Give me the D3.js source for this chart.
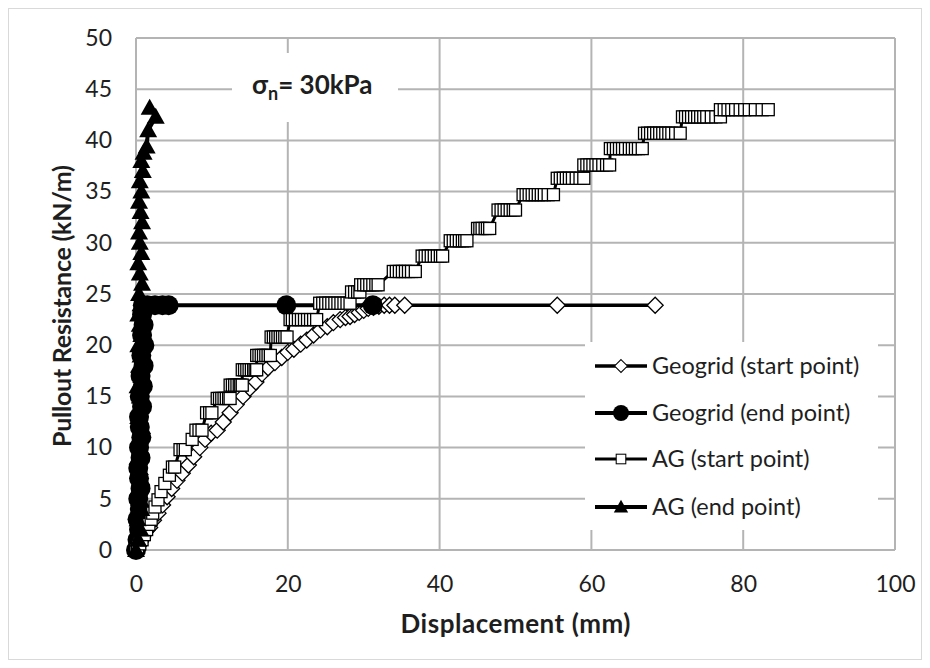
<!DOCTYPE html>
<html>
<head>
<meta charset="utf-8">
<script src="https://cdn.jsdelivr.net/npm/d3@7"></script>
<style>
  body { margin: 0; background: #fff; }
  svg text { font-family: Lato, "Open Sans", sans-serif; fill: #1e1e1e; }
</style>
</head>
<body>
<div id="chart"></div>
<script>
// Geogrid (start point)
const ggStartX = [0,0.3,0.6,0.9,1.3,1.8,2.3,2.9,3.5,4.1,4.7,5.4,6.1,6.9,7.6,8.4,9.1,9.9,10.7,11.5,12.4,13.2,14.1,15.0,15.8,16.6,17.4,18.3,19.2,20.0,20.8,21.7,22.5,23.4,24.3,25.2,26.0,26.9,27.6,28.2,28.8,29.4,30.0,30.6,31.3,32.0,32.7,33.4,34.1,35.4,55.5,68.4];
const ggStartY = [0,0.4,0.8,1.3,1.8,2.2,2.9,3.6,4.4,5.2,6.0,6.8,7.5,8.3,9.1,10.0,10.8,11.4,11.7,12.5,13.4,14.2,15.0,15.8,16.4,17.2,17.8,18.3,18.8,19.3,19.6,20.1,20.5,21.0,21.5,21.8,22.2,22.5,22.7,22.8,23.0,23.2,23.4,23.6,23.7,23.8,23.9,23.9,23.9,23.9,23.9,23.9];

// Geogrid (end point)
const ggEndX = [0,0.2,0.4,0.2,0.5,0.3,0.6,0.4,0.3,0.6,0.4,0.7,0.5,0.4,0.8,0.5,0.9,0.6,1.0,0.7,1.1,0.8,1.0,0.8,0.9,1.5,2.5,3.5,4.3,19.8,31.2];
const ggEndY = [0,1,2,3,4,5,6,7,8,9,10,11,12,13,14,15,16,17,18,19,20,21,22,23,23.9,23.9,23.9,23.9,23.9,23.9,23.9];

// AG (start point): load levels and the displacements recorded at each level
const agStartLevels = [0,0.3,0.6,1.0,1.5,2.0,2.5,3.0,3.6,4.2,4.9,5.7,6.5,7.3,8.1,9.8,10.8,11.7,13.4,14.8,16.1,17.6,19.0,20.8,22.5,24.1,25.2,25.9,27.2,28.7,30.2,31.4,33.2,34.7,36.3,37.6,39.2,40.7,42.3,43.0];
const agStartDisp = [
  [0],[0.2],[0.5],[0.8],[1.1],[1.4],[1.7],[2.0],[2.2],[2.5],[2.9],[3.3],[3.8],[4.4],[4.8,5.1],[5.8,6.2,6.5],[7.4],[7.9,8.3,8.7],[9.3,9.7,10.0],
  [10.7,11.0,11.3,11.6,11.9,12.2,12.4],
  [12.4,12.7,13.0,13.3,13.6,13.8,14.0],
  [14.0,14.3,14.6,14.9,15.2,15.5,15.7,15.9],
  [15.9,16.2,16.5,16.8,17.1,17.4,17.7],
  [17.8,18.1,18.4,18.7,19.0,19.3,19.6,19.9],
  [20.3,20.6,21.0,21.4,21.8,22.2,22.6,23.0,23.4,23.8],
  [24.2,24.6,25.0,25.4,25.8,26.2,26.6,27.0,27.4,27.8,28.2],
  [28.4,28.8,29.2,29.5],
  [29.6,30.0,30.4,30.8,31.2,31.6,31.9],
  [33.9,34.3,34.7,35.1,35.5,35.9,36.3,36.8],
  [37.7,38.1,38.5,38.9,39.3,39.7,40.1,40.4],
  [41.4,41.8,42.2,42.6,43.0,43.3,43.6],
  [45.0,45.3,45.6,46.0,46.3,46.6],
  [47.7,48.1,48.5,48.9,49.3,49.7,50.0],
  [51.0,51.4,51.8,52.2,52.6,53.0,53.4,53.8,54.3,55.0],
  [55.5,55.9,56.3,56.7,57.1,57.5,58.0,58.5,59.0],
  [59.0,59.4,59.8,60.2,60.6,61.0,61.5,62.0,62.4],
  [62.5,62.9,63.3,63.7,64.1,64.5,65.0,65.4,65.8,66.2,66.7],
  [67.0,67.4,67.8,68.2,68.6,69.0,69.4,69.8,70.2,70.6,71.1,71.7],
  [72.0,72.4,72.8,73.2,73.6,74.0,74.4,74.8,75.2,75.8,76.4,77.0],
  [77.0,77.5,78.0,78.5,79.0,79.6,80.2,80.8,81.6,82.5,83.3]
];

// AG (end point)
const agEndX = [0,0.3,0.6,0.2,0.7,0.4,0.3,0.7,0.5,0.2,0.6,0.4,0.8,0.3,0.6,0.5,0.2,0.7,0.4,0.6,0.3,0.7,0.5,0.3,0.6,0.4,0.8,0.5,0.3,0.7,0.5,0.4,0.8,0.6,0.4,0.7,0.5,0.9,0.7,1.0,1.4,1.6,2.6,1.8];
const agEndY = [0,1,2,3,4,5,6,7,8,9,10,11,12,13,14,15,16,17,18,19,20,21,22,23,24,25,26,27,28,29,30,31,32,33,34,35,36,37,38,38.8,39.4,41.0,42.3,43.2];

const xTicks = [0,20,40,60,80,100];
const yTicks = [0,5,10,15,20,25,30,35,40,45,50];
const seriesNames = ['Geogrid (start point)','Geogrid (end point)','AG (start point)','AG (end point)'];

const W = 930, H = 668;
const m = { t: 38, r: 35, b: 118, l: 136 };
const svg = d3.select('#chart').append('svg').attr('width', W).attr('height', H);

svg.append('rect').attr('x', 8.5).attr('y', 8.5).attr('width', W - 17).attr('height', H - 17)
  .attr('fill', '#fff').attr('stroke', '#d9d9d9');

const x = d3.scaleLinear().domain([0, 100]).range([m.l, W - m.r]);
const y = d3.scaleLinear().domain([0, 50]).range([H - m.b, m.t]);

// grid
const grid = svg.append('g').attr('stroke', '#b4b4b4').attr('stroke-width', 2);
grid.selectAll('line.h').data(yTicks).join('line').attr('class', 'h')
  .attr('x1', x(0)).attr('x2', x(100)).attr('y1', d => y(d)).attr('y2', d => y(d));
grid.selectAll('line.v').data(xTicks).join('line').attr('class', 'v')
  .attr('y1', y(0)).attr('y2', y(50)).attr('x1', d => x(d)).attr('x2', d => x(d));

// axes (labels only, the lines are the grid)
const ax = svg.append('g').attr('transform', `translate(0,${y(0)})`)
  .call(d3.axisBottom(x).tickValues(xTicks).tickSize(0));
const ay = svg.append('g').attr('transform', `translate(${x(0)},0)`)
  .call(d3.axisLeft(y).tickValues(yTicks).tickSize(0).tickPadding(24));
[ax, ay].forEach(g => {
  g.select('.domain').remove();
  g.selectAll('text').attr('font-size', 23).attr('fill', '#1e1e1e')
    .style('font-family', 'Lato, sans-serif');
});
ax.selectAll('text').attr('dy', 0).attr('y', 42);

// title box and legend box sit over the grid
svg.append('rect').attr('x', 232).attr('y', 53).attr('width', 166).attr('height', 69).attr('fill', '#fff');
svg.append('rect').attr('x', 585).attr('y', 342).attr('width', 293).attr('height', 188).attr('fill', '#fff');

const t = svg.append('text').attr('x', 252).attr('y', 94).attr('font-size', 26).attr('font-weight', 700);
t.append('tspan').text('σ');
t.append('tspan').attr('font-size', 18).attr('dy', 6).text('n');
t.append('tspan').attr('dy', -6).text('= 30kPa');

const line = d3.line().x(d => x(d[0])).y(d => y(d[1]));
const zip = (a, b) => a.map((v, i) => [v, b[i]]);
const agStartPts = agStartLevels.flatMap((r, i) => agStartDisp[i].map(d => [d, r]));

const sym = {
  diamond: s => s.append('path').attr('d', 'M0,-8L8,0L0,8L-8,0Z').attr('fill', '#fff').attr('stroke', '#000').attr('stroke-width', 1.3),
  circle: s => s.append('circle').attr('r', 10).attr('fill', '#000'),
  square: s => s.append('rect').attr('x', -6).attr('y', -6).attr('width', 12).attr('height', 12).attr('fill', '#fff').attr('stroke', '#000').attr('stroke-width', 1.3),
  triangle: s => s.append('path').attr('d', 'M0,-9L9,7L-9,7Z').attr('fill', '#000')
};

const series = [
  { pts: zip(ggStartX, ggStartY), mk: 'diamond', lw: 3.5 },
  { pts: zip(ggEndX, ggEndY), mk: 'circle', lw: 4 },
  { pts: agStartPts, mk: 'square', lw: 3 },
  { pts: zip(agEndX, agEndY), mk: 'triangle', lw: 4 }
];

series.forEach(s => {
  const g = svg.append('g');
  g.append('path').attr('d', line(s.pts)).attr('fill', 'none').attr('stroke', '#000')
    .attr('stroke-width', s.lw).attr('stroke-linejoin', 'round');
  g.selectAll('g.pt').data(s.pts).join('g').attr('class', 'pt')
    .attr('transform', d => `translate(${x(d[0])},${y(d[1])})`)
    .each(function () { sym[s.mk](d3.select(this)); });
});

// legend
const legY = [366, 413, 459, 507];
const leg = svg.append('g');
series.forEach((s, i) => {
  const r = leg.append('g').attr('transform', `translate(0,${legY[i]})`);
  r.append('line').attr('x1', 595).attr('x2', 647).attr('stroke', '#000').attr('stroke-width', s.lw);
  sym[s.mk](r.append('g').attr('transform', 'translate(621,0) scale(0.8)'));
  r.append('text').attr('x', 652).attr('y', 8).attr('font-size', 23.5).text(seriesNames[i]);
});

// axis titles
svg.append('text').attr('x', x(50)).attr('y', 633).attr('text-anchor', 'middle')
  .attr('font-size', 26).attr('font-weight', 700)
  .attr('textLength', 230).attr('lengthAdjust', 'spacing').text('Displacement (mm)');
svg.append('text').attr('transform', 'translate(71,306) rotate(-90)').attr('text-anchor', 'middle')
  .attr('font-size', 25).attr('font-weight', 700)
  .attr('textLength', 282).attr('lengthAdjust', 'spacing').text('Pullout Resistance (kN/m)');
</script>
</body>
</html>
